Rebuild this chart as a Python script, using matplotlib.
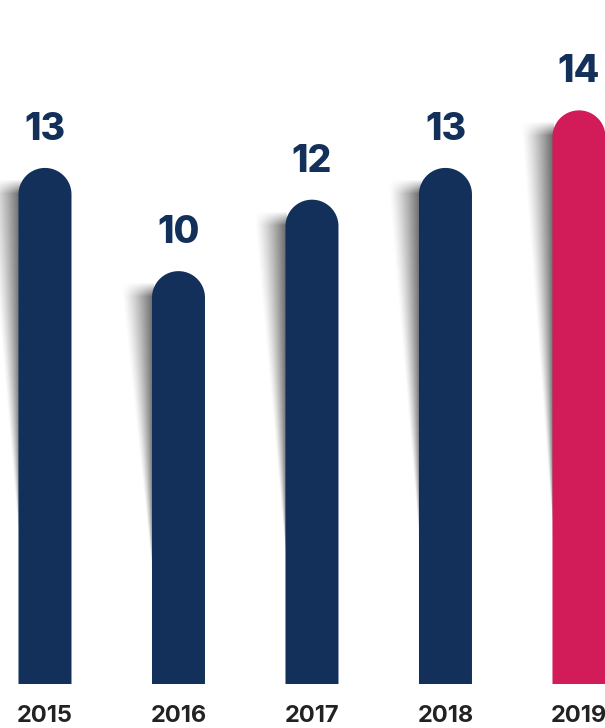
import numpy as np
import matplotlib.pyplot as plt
from matplotlib.patches import Polygon

years = ["2015", "2016", "2017", "2018", "2019"]
values = [13.0, 10.4, 12.2, 13.0, 14.45]
labels = [f"{v:.0f}" for v in values]
colors = ["#13305A", "#13305A", "#13305A", "#13305A", "#D21C5A"]

W, H = 605, 728
fig = plt.figure(figsize=(W / 100, H / 100), dpi=100)
bottom_px = 44
ax = fig.add_axes([0, bottom_px / H, 1, 1 - bottom_px / H])

x = np.arange(len(years))
xlim = (-0.337, 4.195)
ylim = (0, 17.23)
px_x = W / (xlim[1] - xlim[0])
px_y = (H - bottom_px) / (ylim[1] - ylim[0])

bw = 53 / px_x
r_y = 26.5 / px_y

# soft shadow wedges on the left of each bar
Wmax = 32
for xi, v in zip(x, values):
    top = v - 12 / px_y
    L = 0.72 * v * px_y
    ny, nx = int(L) + 1, Wmax + 1
    d = np.arange(ny)[:, None]
    dx = (nx - 1 - np.arange(nx))[None, :]
    ww = np.maximum(Wmax * (1 - d / L), 1e-6)
    a = np.clip(1 - dx / ww, 0, 1) ** 1.3
    a *= np.clip(d / 14, 0, 1)
    a *= 0.75
    rgba = np.zeros((ny, nx, 4))
    rgba[..., :3] = 0.2
    rgba[..., 3] = a
    x0 = xi - bw / 2 - Wmax / px_x
    x1 = xi - bw / 2 + 2 / px_x
    ax.imshow(rgba, extent=(x0, x1, top - L / px_y, top), origin="upper",
              aspect="auto", interpolation="bilinear", zorder=2)

# bars with round tops
t = np.linspace(np.pi, 0, 60)
for xi, v, c in zip(x, values, colors):
    cap_x = xi + bw / 2 * np.cos(t)
    cap_y = v - r_y + r_y * np.sin(t)
    pts = np.column_stack([
        np.r_[xi - bw / 2, cap_x, xi + bw / 2],
        np.r_[0, cap_y, 0],
    ])
    ax.add_patch(Polygon(pts, closed=True, facecolor=c, edgecolor="none", zorder=3))

for xi, v, lbl in zip(x, values, labels):
    ax.annotate(lbl, (xi, v), xytext=(0, 28 * 0.72), textcoords="offset points",
                ha="center", va="baseline", fontsize=27, fontweight="heavy",
                family="Inter", color="#13305A")

ax.set_xlim(*xlim)
ax.set_ylim(*ylim)
ax.set_xticks(x, years)
ax.set_yticks([])
ax.tick_params(axis="x", length=0, pad=15, labelsize=17, labelcolor="#222222")
for tl in ax.get_xticklabels():
    tl.set_fontfamily("Inter")
    tl.set_fontweight("bold")
for s in ax.spines.values():
    s.set_visible(False)

fig.savefig("out.png", dpi=100)
